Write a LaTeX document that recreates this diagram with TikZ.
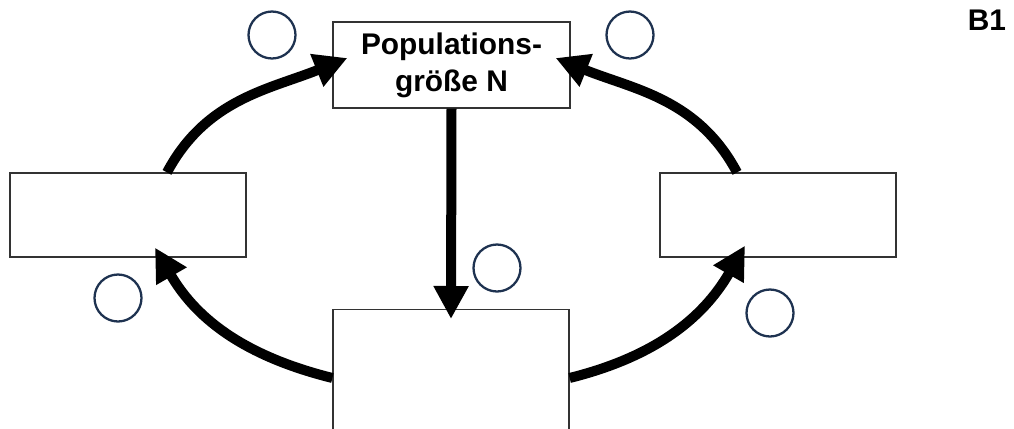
\documentclass[tikz,border=0pt]{standalone}
\usepackage{fontspec}
\setmainfont{Liberation Sans}
\usetikzlibrary{arrows.meta,positioning}

\definecolor{ringblue}{RGB}{30,50,80}

\tikzset{
  box/.style={draw=black!80,line width=0.7pt,fill=white,minimum width=4.72cm,minimum height=1.68cm,inner sep=0pt},
  flow/.style={line width=0.2cm,-{Triangle[length=0.66cm,width=0.66cm]}},
  ring/.style={draw=ringblue,line width=1.3pt,circle,minimum size=0.94cm,inner sep=0pt}
}

\begin{document}
\begin{tikzpicture}
\clip (0,0) rectangle (20.28,8.56);
\fill[white] (0,0) rectangle (20.28,8.56);

% boxes
\node[box,minimum width=4.74cm,minimum height=1.72cm,align=center,font=\bfseries\fontsize{17}{21}\selectfont] (top) at (9.03,7.26) {Populations-\\größe N};
\node[box] (lbox) at (2.56,4.26) {};
\node[box] (rbox) at (15.56,4.26) {};
\node[box,minimum height=3cm,anchor=north] (bot) at (9.02,2.38) {};

% arrows
\draw[flow] ([xshift=0.78cm]lbox.north) to[out=62,in=202] ([xshift=0.3cm,yshift=0.14cm]top.west);
\draw[flow] ([xshift=-0.82cm]rbox.north) to[out=118,in=-22] ([xshift=-0.3cm,yshift=0.14cm]top.east);
\draw[flow] (top.south) -- ([yshift=-0.2cm]bot.north);
\draw[flow] ([yshift=-1.38cm]bot.north west) to[out=166,in=-60] ([xshift=0.54cm,yshift=0.2cm]lbox.south);
\draw[flow] ([yshift=-1.38cm]bot.north east) to[out=14,in=240] ([xshift=-0.66cm,yshift=0.24cm]rbox.south);

% empty circles
\node[ring] (c1) at (5.44,7.86) {};
\node[ring] (c2) at (12.60,7.86) {};
\node[ring] (c3) at (2.36,2.60) {};
\node[ring] (c4) at (15.40,2.30) {};
\node[ring] (c5) at (9.94,3.20) {};

\node[font=\bfseries\fontsize{17}{20}\selectfont] (tag) at (19.74,8.16) {B1};
\end{tikzpicture}
\end{document}
